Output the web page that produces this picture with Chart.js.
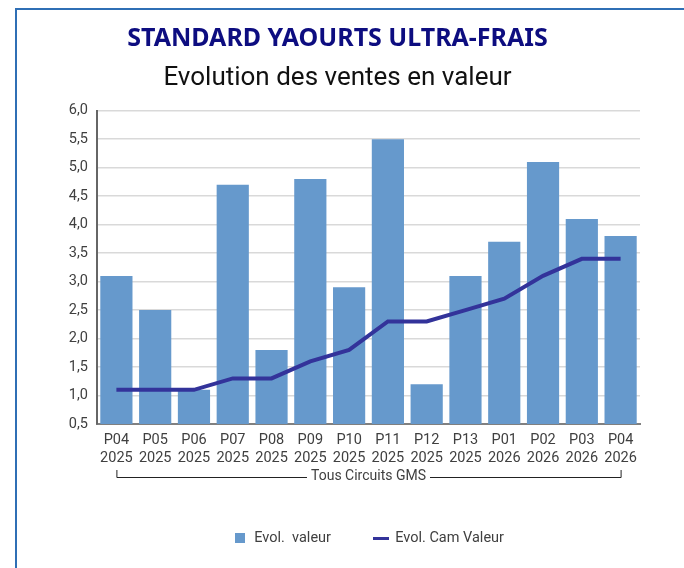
<!DOCTYPE html>
<html lang="fr">
<head>
<meta charset="utf-8">
<title>Standard yaourts ultra-frais</title>
<script src="https://cdn.jsdelivr.net/npm/chart.js@4"></script>
<style>
  html, body { margin: 0; padding: 0; background: #fff; }
  #wrap { position: relative; width: 684px; height: 568px; overflow: hidden; }
  #frame {
    position: absolute; left: 15px; top: 8px; right: -10px; bottom: -10px;
    border-top: 2px solid #2f6fb5; border-left: 2px solid #2f6fb5;
  }
  canvas { position: absolute; left: 0; top: 0; }
</style>
</head>
<body>
<div id="wrap">
  <div id="frame"></div>
  <canvas id="chart" width="684" height="568"></canvas>
</div>
<script>
// valeurs
const periodes = ['P04', 'P05', 'P06', 'P07', 'P08', 'P09', 'P10', 'P11', 'P12', 'P13', 'P01', 'P02', 'P03', 'P04'];
const annees   = ['2025', '2025', '2025', '2025', '2025', '2025', '2025', '2025', '2025', '2025', '2026', '2026', '2026', '2026'];
const evolValeur    = [3.1, 2.5, 1.1, 4.7, 1.8, 4.8, 2.9, 5.5, 1.2, 3.1, 3.7, 5.1, 4.1, 3.8];
const evolCamValeur = [1.1, 1.1, 1.1, 1.3, 1.3, 1.6, 1.8, 2.3, 2.3, 2.5, 2.7, 3.1, 3.4, 3.4];
const groupeLabel = 'Tous Circuits GMS';

const FONT = 'Roboto, "Noto Sans", sans-serif';
const BAR_COLOR  = '#6699cc';
const LINE_COLOR = '#33339a';
const TXT = '#404040';

// petites icônes de légende
function legendIcon(w, h, color) {
  const c = document.createElement('canvas');
  c.width = w; c.height = h;
  const g = c.getContext('2d');
  g.fillStyle = color;
  g.fillRect(0, 0, w, h);
  return c;
}
const iconBar  = legendIcon(10, 10, BAR_COLOR);
const iconLine = legendIcon(16, 3, LINE_COLOR);

// accolade "Tous Circuits GMS" sous les étiquettes
const groupBracket = {
  id: 'groupBracket',
  afterDraw(chart) {
    const x = chart.scales.x;
    const ctx = chart.ctx;
    const x0 = x.getPixelForValue(0);
    const x1 = x.getPixelForValue(periodes.length - 1);
    const y = 477;
    ctx.save();
    ctx.font = '14px ' + FONT;
    ctx.fillStyle = TXT;
    ctx.textAlign = 'center';
    ctx.textBaseline = 'middle';
    const mid = (x0 + x1) / 2;
    const tw = ctx.measureText(groupeLabel).width;
    ctx.fillText(groupeLabel, mid, y - 1);
    ctx.strokeStyle = '#222';
    ctx.lineWidth = 1;
    ctx.beginPath();
    ctx.moveTo(x0 + 0.5, y - 7);
    ctx.lineTo(x0 + 0.5, y + 0.5);
    ctx.lineTo(mid - tw / 2 - 4, y + 0.5);
    ctx.moveTo(mid + tw / 2 + 4, y + 0.5);
    ctx.lineTo(x1 + 0.5, y + 0.5);
    ctx.lineTo(x1 + 0.5, y - 7);
    ctx.stroke();
    ctx.restore();
  }
};

new Chart(document.getElementById('chart'), {
  type: 'bar',
  data: {
    labels: periodes.map((p, i) => [p, annees[i]]),
    datasets: [
      {
        type: 'bar',
        label: 'Evol.  valeur',
        data: evolValeur,
        backgroundColor: BAR_COLOR,
        borderWidth: 0,
        barPercentage: 0.83,
        categoryPercentage: 1,
        order: 2,
      },
      {
        type: 'line',
        label: 'Evol. Cam Valeur',
        data: evolCamValeur,
        borderColor: LINE_COLOR,
        backgroundColor: LINE_COLOR,
        borderWidth: 4,
        pointRadius: 0,
        tension: 0,
        order: 1,
      },
    ],
  },
  options: {
    responsive: false,
    animation: false,
    layout: { padding: { left: 35, right: 44, top: 23.5, bottom: 12.5 } },
    plugins: {
      title: {
        display: true,
        text: 'STANDARD YAOURTS ULTRA-FRAIS',
        color: '#0d0d80',
        font: { family: '"Noto Sans", Roboto, sans-serif', size: 25, weight: 'bold' },
        padding: { top: 0, bottom: 9 },
      },
      subtitle: {
        display: true,
        text: 'Evolution des ventes en valeur',
        color: '#111',
        font: { family: FONT, size: 26 },
        padding: { top: 0, bottom: 17 },
      },
      legend: {
        position: 'bottom',
        fullSize: false,
        labels: {
          usePointStyle: true,
          boxWidth: 14,
          padding: 43,
          color: TXT,
          font: { family: FONT, size: 14.5 },
          generateLabels: () => [
            { text: 'Evol.  valeur', pointStyle: iconBar, fillStyle: BAR_COLOR, strokeStyle: BAR_COLOR, lineWidth: 0, datasetIndex: 0, fontColor: TXT },
            { text: 'Evol. Cam Valeur', pointStyle: iconLine, fillStyle: LINE_COLOR, strokeStyle: LINE_COLOR, lineWidth: 0, datasetIndex: 1, fontColor: TXT },
          ],
        },
      },
      tooltip: { enabled: false },
    },
    scales: {
      x: {
        grid: { display: false, drawTicks: false },
        border: { color: '#808080', width: 2 },
        ticks: { color: TXT, font: { family: FONT, size: 14.5 }, padding: 8, maxRotation: 0, autoSkip: false },
        afterFit: s => { s.height = 64; },
      },
      y: {
        min: 0.5,
        max: 6,
        grid: { color: '#d9d9d9', lineWidth: 1.5, drawTicks: false },
        border: { color: '#666', width: 2 },
        ticks: {
          stepSize: 0.5,
          color: TXT,
          padding: 9,
          font: { family: FONT, size: 14.5 },
          callback: v => v.toFixed(1).replace('.', ','),
        },
        afterFit: s => { s.width = 62; },
      },
    },
  },
  plugins: [groupBracket],
});
</script>
</body>
</html>
